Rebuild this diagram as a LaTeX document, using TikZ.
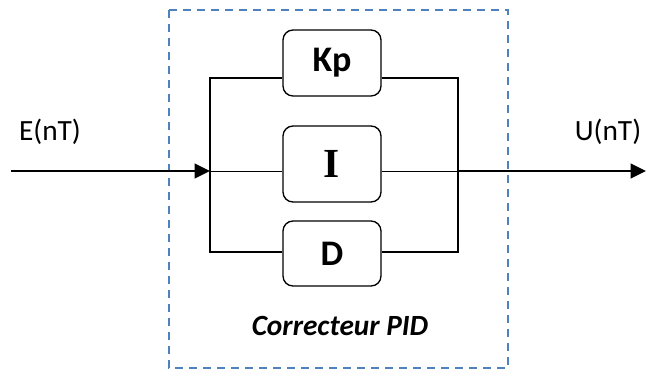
\documentclass[tikz,border=0pt]{standalone}
\usepackage{fontspec}
\setmainfont{Carlito}
\newfontfamily\blockserif{Liberation Serif}
\usetikzlibrary{arrows.meta}

\definecolor{framedash}{RGB}{79,129,189}

\tikzset{every picture/.style={line width=0.75pt}}
\tikzset{
  blockbox/.style={draw, rounded corners=7.5pt, line width=1pt, minimum width=73.5pt, inner sep=0pt},
  busline/.style={line width=1pt},
  sigline/.style={line width=1.5pt, -{Triangle[length=11.5pt, width=11pt]}},
  siglabel/.style={inner sep=0.75pt, font=\fontsize{22}{26}\selectfont}
}

\begin{document}
\begin{tikzpicture}[x=0.75pt,y=0.75pt,yscale=-1,xscale=1]
    \useasboundingbox (0,0) rectangle (646,369);

    %Shape: Rectangle [frame]
    \draw [color=framedash, line width=1.2pt, dash pattern={on 6pt off 4.5pt}] (169,10) rectangle (508,368) ;

    % Blocks
    \node [blockbox, minimum height=49.5pt, font=\fontsize{27}{30}\selectfont\bfseries] (kp) at (332,63) {Kp};
    \node [blockbox, minimum height=57pt, font=\fontsize{31}{34}\selectfont\blockserif\bfseries] (int) at (332,164) {I};
    \node [blockbox, minimum height=48.75pt, font=\fontsize{27}{30}\selectfont\bfseries] (der) at (332,253.5) {D};

    % Bus points
    \coordinate (inL) at (210,171);
    \coordinate (inT) at (210,78);
    \coordinate (inB) at (210,252);
    \coordinate (outR) at (458,171);
    \coordinate (outT) at (458,78);
    \coordinate (outB) at (458,252);
    \coordinate (src) at (11,171);
    \coordinate (dst) at (646,171);

    %Straight Lines [bus]
    \draw [busline] (kp.west |- inT) -- (inT) -- (inB) -- (der.west |- inB) ;
    \draw [busline] (kp.east |- outT) -- (outT) -- (outB) -- (der.east |- outB) ;
    \draw (inL) -- (int.west |- inL) ;
    \draw (int.east |- outR) -- (outR) ;

    %Straight Lines [signals]
    \draw [sigline] (src) -- (inL) ;
    \draw [sigline] (outR) -- (dst) ;

    % Text Node
    \node [siglabel] (ein) at (50,132) {E(nT)};
    % Text Node
    \node [siglabel] (uout) at (608,132) {U(nT)};
    % Text Node
    \node [inner sep=0.75pt, font=\fontsize{22}{26}\selectfont\bfseries\itshape] (title) at (340,326) {Correcteur PID};

\end{tikzpicture}
\end{document}
